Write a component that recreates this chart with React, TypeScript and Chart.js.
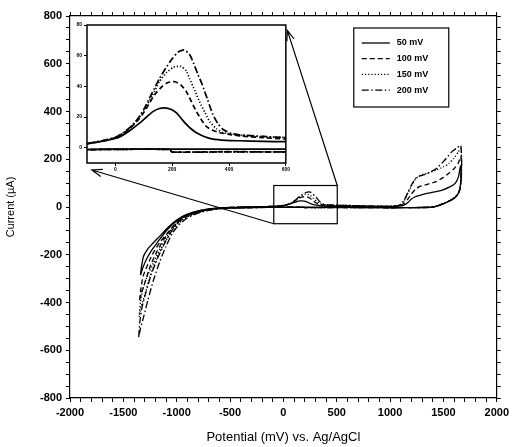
import React, { useEffect, useRef } from 'react';
import Chart from 'chart.js/auto';

// cyclic voltammograms, [potential mV, current uA], path: left vertex -> forward -> right vertex -> reverse -> left vertex
const SERIES_LABELS = ['50 mV', '100 mV', '150 mV', '200 mV'];

const CV_50: [number, number][] = [
	[-1340, -285], [-1330, -250], [-1310, -205], [-1270, -175], [-1230, -155], [-1150, -118], [-1080, -85],
	[-1000, -55], [-950, -40], [-900, -30], [-800, -16], [-700, -8], [-600, -4], [-500, -2], [-400, -0.5],
	[-300, 0.5], [-200, 1.5], [-100, 2.5], [-50, 4], [0, 6], [25, 8], [50, 11], [85, 16], [110, 20],
	[132, 23.5], [155, 25.5], [173, 26], [195, 25], [214, 22.8], [232, 19], [249, 15.3], [265, 12.5],
	[284, 9.9], [310, 7.5], [343, 5.6], [390, 4.8], [437, 4.5], [520, 4.1], [600, 3.9], [700, 3.5],
	[800, 3], [900, 2.8], [1000, 2.6], [1080, 3.5], [1130, 8], [1170, 20], [1200, 33], [1230, 42],
	[1270, 48], [1330, 55], [1420, 63], [1490, 71], [1560, 84], [1610, 99], [1640, 125], [1660, 170],
	[1665, 140], [1660, 95], [1650, 68], [1630, 50], [1600, 36], [1560, 25], [1500, 13], [1450, 5],
	[1400, 0], [1300, -2], [1100, -3], [900, -3], [600, -1], [400, -1], [200, -1], [0, -1], [-100, -1.2],
	[-300, -2.5], [-500, -4], [-600, -6], [-700, -11], [-800, -20], [-900, -34], [-980, -52], [-1050, -78],
	[-1120, -112], [-1180, -148], [-1240, -185], [-1290, -225], [-1320, -258], [-1340, -285],
];

const CV_100: [number, number][] = [
	[-1348, -390], [-1335, -340], [-1315, -290], [-1280, -250], [-1230, -200], [-1160, -150], [-1080, -105],
	[-1000, -65], [-950, -46], [-900, -33], [-800, -17], [-700, -9], [-600, -4.5], [-500, -2], [-400, -0.5],
	[-300, 0.5], [-200, 1.5], [-100, 2.6], [-50, 4.2], [0, 6.5], [25, 9], [50, 12.5], [75, 17], [100, 23],
	[118, 28.5], [140, 35], [165, 40], [185, 42.5], [210, 43], [230, 41], [249, 36.8], [265, 31], [284, 24],
	[300, 19], [319, 14], [340, 11.5], [366, 9.9], [400, 8.7], [437, 7.7], [520, 6.5], [600, 5.6],
	[700, 4.5], [800, 3.5], [900, 3], [1000, 3], [1080, 5], [1130, 15], [1170, 35], [1200, 55], [1240, 75],
	[1280, 86], [1350, 95], [1430, 106], [1500, 124], [1550, 141], [1600, 160], [1640, 185], [1662, 212],
	[1668, 170], [1664, 110], [1655, 75], [1635, 52], [1600, 37], [1560, 26], [1500, 14], [1450, 5],
	[1400, 0], [1300, -2], [1100, -3], [900, -3], [600, -2.8], [400, -2.6], [200, -2.8], [190, -1.2],
	[0, -1.1], [-100, -1.3], [-300, -2.5], [-500, -4], [-600, -6.5], [-700, -12], [-800, -22], [-900, -38],
	[-980, -60], [-1050, -92], [-1120, -135], [-1190, -190], [-1250, -250], [-1300, -320], [-1330, -360],
	[-1348, -390],
];

const CV_150: [number, number][] = [
	[-1352, -460], [-1340, -400], [-1320, -350], [-1280, -295], [-1220, -235], [-1150, -170], [-1080, -115],
	[-1000, -70], [-950, -50], [-900, -35], [-800, -18], [-700, -9], [-600, -4.5], [-500, -2], [-400, -0.5],
	[-300, 0.5], [-200, 1.5], [-100, 2.7], [-50, 4.3], [0, 6.6], [25, 9.2], [50, 12.8], [75, 17.5],
	[100, 24], [130, 34], [155, 43], [180, 49], [205, 52.5], [231, 53], [250, 50], [261, 45], [280, 37],
	[296, 30], [315, 23], [332, 17], [355, 12.5], [378, 9.9], [420, 8.4], [480, 7.5], [600, 6.6],
	[700, 5.5], [800, 4], [900, 3.2], [1000, 3], [1080, 6], [1130, 25], [1170, 60], [1200, 88],
	[1240, 118], [1280, 132], [1350, 142], [1430, 155], [1500, 168], [1550, 182], [1600, 205],
	[1640, 231], [1662, 245], [1670, 190], [1667, 120], [1657, 80], [1637, 55], [1600, 38], [1560, 27],
	[1500, 15], [1450, 6], [1400, 0], [1300, -2], [1100, -3], [900, -3], [600, -2.8], [400, -2.7],
	[200, -2.9], [190, -1.2], [0, -1.1], [-100, -1.3], [-300, -2.6], [-500, -4.5], [-600, -7],
	[-700, -13], [-800, -24], [-900, -42], [-980, -68], [-1050, -105], [-1120, -155], [-1190, -220],
	[-1250, -290], [-1300, -370], [-1335, -420], [-1352, -460],
];

const CV_200: [number, number][] = [
	[-1356, -545], [-1345, -480], [-1325, -420], [-1290, -360], [-1240, -285], [-1180, -215], [-1110, -150],
	[-1040, -95], [-980, -62], [-900, -38], [-800, -19], [-700, -10], [-600, -5], [-500, -2.2], [-400, -0.5],
	[-300, 0.6], [-200, 1.6], [-100, 2.8], [-50, 4.4], [0, 6.8], [25, 9.4], [50, 13], [75, 18], [100, 25],
	[130, 36], [155, 45], [177, 51.8], [200, 58], [222, 62.5], [242, 63.7], [260, 61], [271, 57],
	[290, 48], [306, 41], [325, 31], [343, 21.7], [360, 16], [378, 12], [405, 9.5], [437, 8.4],
	[520, 7.3], [600, 6.6], [700, 5.5], [800, 4], [900, 3.2], [1000, 3], [1080, 6], [1130, 27],
	[1170, 64], [1200, 92], [1240, 120], [1280, 130], [1350, 140], [1430, 160], [1500, 190],
	[1580, 232], [1630, 248], [1662, 258], [1671, 200], [1668, 125], [1658, 82], [1638, 56],
	[1600, 39], [1560, 27], [1500, 15], [1450, 6], [1400, 0], [1300, -2], [1100, -3], [900, -3],
	[600, -2.8], [400, -2.7], [200, -2.9], [190, -1.2], [0, -1.1], [-100, -1.4], [-300, -2.7],
	[-500, -4.8], [-600, -7.5], [-700, -14], [-800, -26], [-900, -46], [-980, -75], [-1040, -110],
	[-1100, -165], [-1160, -230], [-1220, -310], [-1270, -390], [-1310, -460], [-1340, -510], [-1356, -545],
];

const SERIES = [CV_50, CV_100, CV_150, CV_200];

const X_LABELS = [-2000, -1500, -1000, -500, 0, 500, 1000, 1500, 2000];
const Y_LABELS = [-800, -600, -400, -200, 0, 200, 400, 600, 800];
const INSET_X_LABELS = [0, 200, 400, 600];
const INSET_Y_LABELS = [0, 20, 40, 60, 80];

// zoom rectangle and the two pointer arrows, in main-chart data units
const ZOOM_BOX = { x0: -90, x1: 505, y0: -70, y1: 90 };
const ARROWS = [
	{ from: [505, 90], to: [37, 740] },
	{ from: [-90, -70], to: [-1795, 155] },
];

const DASHES = [[], [5, 3], [1.2, 2], [7, 2.5, 1.5, 2.5]];
const FONT = '"Liberation Sans", Arial, sans-serif';

function makeDatasets(width: number) {
	return SERIES.map((d, i) => ({
		label: SERIES_LABELS[i],
		data: d.map(([x, y]) => ({ x, y })),
		borderColor: '#000',
		borderWidth: width,
		borderDash: DASHES[i],
		pointRadius: 0,
		showLine: true,
		fill: false,
		tension: 0.2,
		clip: 0,
	}));
}

const mainDecor = {
	id: 'mainDecor',
	afterDatasetsDraw(chart: any) {
		const { ctx, scales } = chart;
		const px = (v: number) => scales.x.getPixelForValue(v);
		const py = (v: number) => scales.y.getPixelForValue(v);
		ctx.save();
		ctx.strokeStyle = '#000';
		ctx.lineWidth = 1.2;
		ctx.strokeRect(px(ZOOM_BOX.x0), py(ZOOM_BOX.y1), px(ZOOM_BOX.x1) - px(ZOOM_BOX.x0), py(ZOOM_BOX.y0) - py(ZOOM_BOX.y1));
		ARROWS.forEach((a) => {
			const fx = px(a.from[0]), fy = py(a.from[1]);
			const tx = px(a.to[0]), ty = py(a.to[1]);
			const ang = Math.atan2(ty - fy, tx - fx);
			ctx.beginPath();
			ctx.moveTo(fx, fy);
			ctx.lineTo(tx, ty);
			ctx.moveTo(tx - 11 * Math.cos(ang - 0.35), ty - 11 * Math.sin(ang - 0.35));
			ctx.lineTo(tx, ty);
			ctx.lineTo(tx - 11 * Math.cos(ang + 0.35), ty - 11 * Math.sin(ang + 0.35));
			ctx.stroke();
		});
		ctx.restore();
	},
	afterDraw(chart: any) {
		const { ctx, chartArea } = chart;
		const w = 95, h = 79;
		const x0 = chartArea.right - 48 - w;
		const y0 = chartArea.top + 12;
		ctx.save();
		ctx.strokeStyle = '#000';
		ctx.lineWidth = 1.2;
		ctx.strokeRect(x0, y0, w, h);
		chart.data.datasets.forEach((ds: any, i: number) => {
			const y = y0 + 15 + i * 15.7;
			ctx.setLineDash(ds.borderDash || []);
			ctx.lineWidth = ds.borderWidth;
			ctx.beginPath();
			ctx.moveTo(x0 + 8, y);
			ctx.lineTo(x0 + 36, y);
			ctx.stroke();
			ctx.setLineDash([]);
			ctx.fillStyle = '#000';
			ctx.font = `bold 9px ${FONT}`;
			ctx.textBaseline = 'middle';
			ctx.fillText(ds.label, x0 + 43, y);
		});
		ctx.restore();
	},
};

const insetFrame = {
	id: 'insetFrame',
	beforeDatasetsDraw(chart: any) {
		const { ctx, chartArea: a } = chart;
		ctx.save();
		ctx.fillStyle = '#fff';
		ctx.fillRect(a.left, a.top, a.right - a.left, a.bottom - a.top);
		ctx.restore();
	},
	afterDraw(chart: any) {
		const { ctx, chartArea: a } = chart;
		ctx.save();
		ctx.strokeStyle = '#000';
		ctx.lineWidth = 1.5;
		ctx.strokeRect(a.left, a.top, a.right - a.left, a.bottom - a.top);
		ctx.restore();
	},
};

function edgeAxis(position: string, min: number, max: number, step: number, size: number) {
	return {
		type: 'linear',
		position,
		min,
		max,
		afterFit: (s: any) => {
			if (position === 'top' || position === 'bottom') s.height = size;
			else s.width = size;
		},
		grid: { drawOnChartArea: false, drawTicks: true, tickLength: 4, color: '#000', lineWidth: 1 },
		border: { display: true, color: '#000', width: 1.2 },
		ticks: { display: false, stepSize: step, autoSkip: false },
	};
}

function App() {
	const mainRef = useRef<HTMLCanvasElement>(null);
	const insetRef = useRef<HTMLCanvasElement>(null);

	useEffect(() => {
		const tickFont = { family: FONT, size: 11, weight: 'bold' as const };
		const main = new Chart(mainRef.current as HTMLCanvasElement, {
			type: 'scatter',
			data: { datasets: makeDatasets(1.3) as any },
			options: {
				responsive: false,
				animation: false,
				events: [],
				layout: { padding: 0 },
				plugins: { legend: { display: false }, tooltip: { enabled: false } },
				scales: {
					x: {
						type: 'linear',
						position: 'bottom',
						min: -2000,
						max: 2000,
						afterFit: (s: any) => {
							s.height = 49;
						},
						grid: { drawOnChartArea: false, drawTicks: true, tickLength: 4, color: '#000' },
						border: { display: true, color: '#000', width: 1.2 },
						ticks: {
							stepSize: 100,
							autoSkip: false,
							maxRotation: 0,
							padding: 4,
							color: '#000',
							font: tickFont,
							callback: (v: any) => (X_LABELS.includes(Number(v)) ? String(v) : ''),
						},
						title: {
							display: true,
							text: 'Potential (mV) vs. Ag/AgCl',
							color: '#000',
							font: { family: FONT, size: 13 },
							padding: { top: 0, bottom: 2 },
						},
					},
					y: {
						type: 'linear',
						position: 'left',
						min: -800,
						max: 800,
						afterFit: (s: any) => {
							s.width = 70;
						},
						grid: { drawOnChartArea: false, drawTicks: true, tickLength: 4, color: '#000' },
						border: { display: true, color: '#000', width: 1.2 },
						ticks: {
							stepSize: 50,
							autoSkip: false,
							padding: 4,
							color: '#000',
							font: tickFont,
							callback: (v: any) => (Y_LABELS.includes(Number(v)) ? String(v) : ''),
						},
						title: {
							display: true,
							text: 'Current (µA)',
							color: '#000',
							font: { family: FONT, size: 11 },
							padding: { top: 4, bottom: 0 },
						},
					},
					x2: edgeAxis('top', -2000, 2000, 100, 16) as any,
					y2: edgeAxis('right', -800, 800, 50, 13) as any,
				},
			},
			plugins: [mainDecor],
		});

		const insetFont = { family: FONT, size: 5, weight: 'bold' as const };
		const inset = new Chart(insetRef.current as HTMLCanvasElement, {
			type: 'scatter',
			data: { datasets: makeDatasets(1.7) as any },
			options: {
				responsive: false,
				animation: false,
				events: [],
				layout: { padding: { top: 3, right: 5, left: 0, bottom: 0 } },
				plugins: { legend: { display: false }, tooltip: { enabled: false } },
				scales: {
					x: {
						type: 'linear',
						min: -100,
						max: 600,
						afterFit: (s: any) => {
							s.height = 17;
						},
						grid: { drawOnChartArea: false, drawTicks: true, tickLength: 3, color: '#000' },
						border: { display: false },
						ticks: {
							stepSize: 200,
							includeBounds: false,
							autoSkip: false,
							maxRotation: 0,
							padding: 1,
							color: '#000',
							font: insetFont,
							callback: (v: any) => (INSET_X_LABELS.includes(Number(v)) ? String(v) : ''),
						},
					},
					y: {
						type: 'linear',
						min: -10,
						max: 80,
						afterFit: (s: any) => {
							s.width = 21;
						},
						grid: { drawOnChartArea: false, drawTicks: true, tickLength: 3, color: '#000' },
						border: { display: false },
						ticks: {
							stepSize: 20,
							includeBounds: false,
							autoSkip: false,
							padding: 2,
							color: '#000',
							font: insetFont,
							callback: (v: any) => (INSET_Y_LABELS.includes(Number(v)) ? String(v) : ''),
						},
					},
				},
			},
			plugins: [insetFrame],
		});

		return () => {
			main.destroy();
			inset.destroy();
		};
	}, []);

	return (
		<div style={{ position: 'absolute', left: 0, top: 0, width: 513, height: 447, background: '#fff' }}>
			<canvas ref={mainRef} width={513} height={447} style={{ position: 'absolute', left: 0, top: 0 }} />
			<canvas ref={insetRef} width={225} height={160} style={{ position: 'absolute', left: 66, top: 20 }} />
		</div>
	);
}

export default App;
